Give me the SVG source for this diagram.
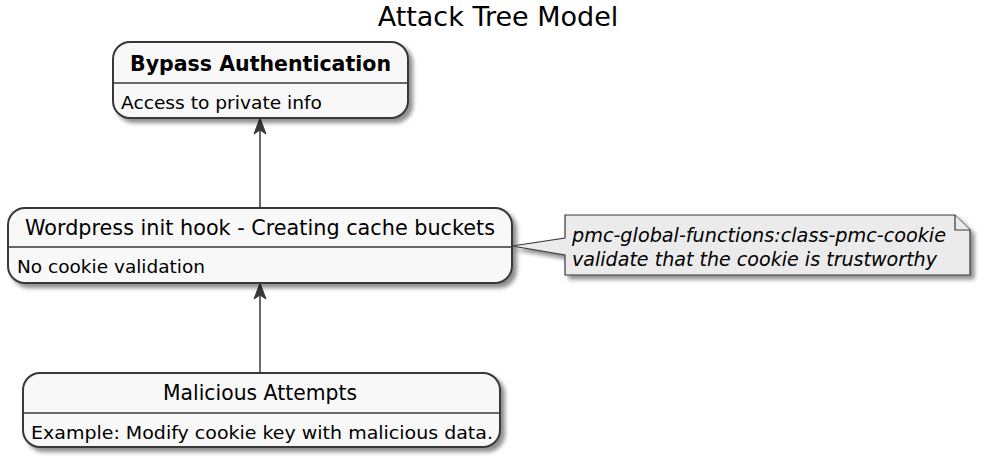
<svg xmlns="http://www.w3.org/2000/svg" width="986" height="463" viewBox="0 0 986 463">
<defs>
<filter id="sh" x="-10%" y="-20%" width="130%" height="150%">
<feGaussianBlur in="SourceAlpha" stdDeviation="2"/>
<feOffset dx="4" dy="4" result="b"/>
<feComponentTransfer><feFuncA type="linear" slope="0.45"/></feComponentTransfer>
<feMerge><feMergeNode/><feMergeNode in="SourceGraphic"/></feMerge>
</filter>
</defs>
<style>
.box{fill:#F8F8F8;stroke:#383838;stroke-width:2}
.div{stroke:#383838;stroke-width:1.5}
.t{font-family:"DejaVu Sans",sans-serif;fill:#000}
.title{font-size:20.7px}
.body{font-size:18.3px}
.nt{font-size:19.2px;font-style:italic}
.note{fill:#EBEBEB;stroke:#383838;stroke-width:1.2}
.edge{stroke:#383838;stroke-width:1.5;fill:none}
.head{fill:#383838;stroke:#383838;stroke-width:1}
</style>
<text class="t" x="498" y="26" font-size="27" text-anchor="middle">Attack Tree Model</text>
<g id="connectors">
<line class="edge" x1="260" y1="208" x2="260" y2="122"/>
<polygon class="head" points="260,118 254,134 260,130 266,134"/>
<line class="edge" x1="260" y1="373" x2="260" y2="287"/>
<polygon class="head" points="260,283 254,299 260,295 266,299"/>
</g>
<g id="node-bypass">
<g filter="url(#sh)"><rect class="box" x="113" y="42" width="295" height="76" rx="17"/></g>
<line class="div" x1="113" y1="83" x2="408" y2="83"/>
<text class="t title" x="130" y="71" font-weight="bold" textLength="261" lengthAdjust="spacingAndGlyphs">Bypass Authentication</text>
<text class="t body" x="121" y="109" textLength="201" lengthAdjust="spacingAndGlyphs">Access to private info</text>
</g>
<g id="node-wordpress">
<g filter="url(#sh)"><rect class="box" x="8" y="208" width="504" height="75" rx="17"/></g>
<line class="div" x1="8" y1="247" x2="512" y2="247"/>
<text class="t title" x="25" y="235" textLength="470" lengthAdjust="spacingAndGlyphs">Wordpress init hook - Creating cache buckets</text>
<text class="t body" x="17" y="273" textLength="188" lengthAdjust="spacingAndGlyphs">No cookie validation</text>
</g>
<g id="node-malicious">
<g filter="url(#sh)"><rect class="box" x="23" y="373" width="477" height="74" rx="17"/></g>
<line class="div" x1="23" y1="413" x2="500" y2="413"/>
<text class="t title" x="163" y="400" textLength="194" lengthAdjust="spacingAndGlyphs">Malicious Attempts</text>
<text class="t body" x="31" y="439" textLength="462" lengthAdjust="spacingAndGlyphs">Example: Modify cookie key with malicious data.</text>
</g>
<g id="note">
<g filter="url(#sh)"><path class="note" d="M565,215 L955,215 L970,230 L970,275 L565,275 L565,255 L512,246 L565,238 Z"/></g>
<path class="note" d="M955,215 L955,230 L970,230" fill="none"/>
<text class="t nt" x="572" y="242" textLength="374" lengthAdjust="spacingAndGlyphs">pmc-global-functions:class-pmc-cookie</text>
<text class="t nt" x="572" y="266" textLength="365" lengthAdjust="spacingAndGlyphs">validate that the cookie is trustworthy</text>
</g>
</svg>
